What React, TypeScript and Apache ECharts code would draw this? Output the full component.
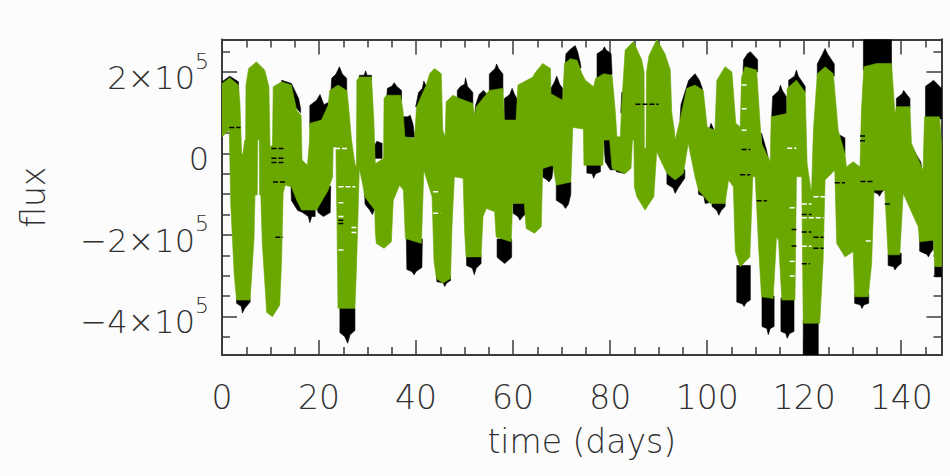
import React, { useEffect, useRef } from "react";
import * as echarts from "echarts";

// All fluxes below are in thousands; times are in days.
const FLUX_UNIT = 1000;
const T_MAX = 148.3;
const FLUX_MIN = -495000;
const FLUX_MAX = 280000;

const xMajorTicks = [0, 20, 40, 60, 80, 100, 120, 140];
const xMinorTicks = [5, 10, 15, 25, 30, 35, 45, 50, 55, 65, 70, 75, 85, 90, 95, 105, 110, 115, 125, 130, 135, 145];
const yMajorTicks = [-400000, -200000, 0, 200000];
const yMinorTicks = [-450000, -350000, -300000, -250000, -150000, -100000, -50000, 50000, 100000, 150000, 250000];
const yTickLabels: Record<string, string> = {
  "200000": "{n|2×10}{s|5}",
  "0": "{n|0}",
  "-200000": "{n|−2×10}{s|5}",
  "-400000": "{n|−4×10}{s|5}",
};

const greenUpper = [
  [0, 172], [1.6, 186], [3.4, 168], [3.7, 123], [4.05, 0], [4.25, -4], [4.7, 33], [4.87, 33], [4.94, 168], [5.5, 209], [7.1, 225], [8.8, 205], [9.67, 164], [9.9, 16], [10.4, 20], [10.56, 164], [12.3, 176], [14.3, 168], [15.4, 106], [16.3, 94], [16.5, -16], [17.6, -29], [18, 25], [18.1, 74], [20.5, 82], [21.9, 119], [22.2, 155], [23.9, 168], [25.7, 155], [26, 127], [26.7, 33], [27.4, -25], [27.7, -33], [27.8, 180], [28.3, 188], [30.8, 188], [31.3, 82], [31.6, -25], [33.3, -12], [33.4, 135], [33.9, 143], [36.8, 143], [37.3, 106], [37.7, 41], [39.7, 37], [40.1, 115], [42.1, 168], [42.8, 196], [43.8, 209], [45.2, 196], [45.5, 57], [46, 41], [46.2, 127], [47.6, 143], [49, 135], [51.7, 123], [52.1, 90], [52.4, 115], [55.1, 155], [57.9, 160], [58.2, 82], [60.6, 82], [61, 168], [64.1, 188], [64.4, 196], [66.1, 221], [67.7, 209], [67.8, 147], [70.2, 131], [70.6, 221], [71.8, 233],
  [73.2, 229], [74.2, 196], [74.9, 180], [76.6, 164], [77, 184], [78.7, 196], [80.4, 192], [81.1, 98], [81.4, 41], [82.1, 41], [82.4, 123], [83.1, 254], [84.8, 275], [86.5, 230], [87, 200], [87.05, 12], [87.4, 12], [87.5, 200], [88, 240], [89.6, 280], [91.3, 245], [92.4, 205], [92.7, 100], [93.2, 60], [93.4, 33], [94.4, 82], [95.8, 160], [97.5, 168], [99.2, 155], [100, 65], [101.6, 57], [102, 180], [103.7, 213], [105.1, 200], [105.9, 74], [106.8, 65], [107.1, 188], [107.8, 213], [110.2, 205], [110.9, 74], [111.2, 25], [113, -20], [113.2, 90], [116.4, 98], [116.5, 160], [118.4, 180], [120.2, 151], [120.6, -25], [121.5, -98], [121.9, 57], [122.7, 196], [124.3, 213], [126, 196], [127, 57], [128.4, 0], [128.7, -33], [130.1, -20], [131.5, -33], [131.8, 106], [132.3, 213], [134.9, 221], [138, 221], [138.7, 98], [139, 115], [141.8, 115], [142.1, 25], [144.5, -41], [144.8, 90], [147.9, 90], [148.3, 25],
];

const greenLower = [
  [0, 41], [1.5, 57], [1.8, -123], [2.5, -294], [3, -360], [5.8, -360], [6.1, -303], [6.6, -209], [6.8, -102], [7.27, -102], [7.34, 33], [7.68, 33], [7.75, -102], [8, -102], [8.3, -221], [9, -349], [9.2, -390], [10.4, -401], [11.9, -372], [12.3, -254], [12.6, -98], [13, -78], [14.3, -82], [15.4, -115], [16.4, -139], [19.5, -139], [21.9, -90], [22.2, -78], [22.8, -57], [22.9, 16], [23.5, 16], [23.55, -57], [23.7, -164], [23.9, -380], [27.4, -380], [27.7, -286], [28.1, -123], [28.3, -37], [29.1, -82], [29.4, -106], [31.5, -139], [31.6, -192], [31.8, -221], [33.4, -233], [34.9, -217], [35.3, -115], [36.6, -78], [37.4, -90], [37.8, -209], [41.1, -221], [41.6, -41], [43.3, -106], [43.7, -266], [44.2, -307], [45.5, -319], [47.1, -307], [47.4, -180], [47.9, -57], [49.7, -61], [50, -188], [50.3, -254], [53.4, -254], [53.8, -155], [54.5, -135], [56.2, -143], [56.5, -205], [59.6, -217], [59.9, -123], [62.3, -123], [62.7, -184], [64.4, -196], [65.8, -180], [66.1, -37], [68.2, -29], [68.9, -78], [71.9, -70], [72.3, 64],
  [74.5, 60], [74.6, -29], [78.5, -29], [78.7, 33], [79.9, 33], [80.4, -37], [83.1, -49], [84.3, -37], [84.6, 33], [84.9, 33], [85, -82], [85.5, -106], [87.2, -139], [89, -106], [89.6, 4], [91.7, -49], [93.4, -65], [95.1, -49], [96.1, 25], [97.5, -57], [98.2, -90], [100.6, -123], [103.7, -123], [104.4, -65], [105.4, -82], [105.8, -241], [106.8, -278], [108.8, -254], [109.4, -57], [109.9, -57], [110.6, -229], [111.2, -352], [113.6, -356], [114.3, -205], [114.7, -213], [115.4, -360], [118.1, -360], [118.4, -57], [119.5, -57], [119.8, -417], [123.2, -417], [123.9, -262], [124.3, -65], [126.3, -41], [126.7, -221], [128.4, -254], [130.1, -241], [130.4, -352], [133.2, -352], [133.9, -270], [134.4, -90], [136.6, -90], [137.3, -249], [139.7, -249], [140.4, -98], [143.5, -180], [143.8, -217], [146.6, -213], [146.9, -278], [148.3, -278],
];

// Black series where it shows past the green one: its peaks and troughs.
const blackPeaks = [
  [[0, 140], [0, 176], [1.6, 190], [3.4, 176], [3.4, 140]],
  [[12.3, 150], [12.3, 180], [14.3, 172], [15.8, 135], [16.2, 110], [16.2, 100], [14, 130]],
  [[18.1, 65], [18.1, 118], [19.5, 131], [20.2, 145], [21, 120], [21.9, 125], [22, 80]],
  [[22.4, 140], [22.6, 185], [23.5, 195], [24.2, 213], [24.8, 195], [25.7, 185], [25.7, 140]],
  [[28.3, 180], [28.3, 192], [29.3, 192], [29.6, 203], [29.9, 192], [30.8, 192], [30.8, 180]],
  [[31.5, -12], [31.5, 20], [31.9, 30], [33, 25], [33, -12]],
  [[33.9, 130], [34.1, 160], [35, 165], [35.5, 174], [36, 165], [37, 155], [37, 130]],
  [[37.3, 40], [37.3, 90], [38.3, 90], [38.8, 94], [39.4, 70], [39.7, 40]],
  [[39.9, 115], [40.1, 125], [40.5, 150], [41.3, 160], [41.6, 178], [42.1, 165], [42.1, 120]],
  [[48.5, 120], [48.5, 155], [49.2, 165], [50, 170], [50.2, 186], [50.6, 165], [51.7, 150], [51.7, 120]],
  [[52.1, 90], [52.3, 120], [53, 145], [53.9, 155], [54.3, 150], [55, 140], [55, 110]],
  [[55.1, 150], [55.1, 195], [56.3, 209], [56.6, 220], [57, 209], [57.9, 195], [57.9, 150]],
  [[58.2, 80], [58.2, 135], [59.3, 145], [59.8, 160], [60.3, 145], [60.8, 135], [60.8, 80]],
  [[67.8, 130], [67.8, 160], [68.5, 175], [69, 190], [69.6, 170], [70.2, 160], [70.2, 130]],
  [[70.7, 210], [70.9, 245], [71.8, 256], [72.8, 265], [73.3, 250], [73.8, 225], [74, 210]],
  [[77.3, 170], [77.3, 245], [78.5, 254], [78.8, 262], [79.2, 254], [80.2, 245], [80.4, 195]],
  [[82.2, 100], [82.4, 150], [83, 150], [83, 100]],
  [[94.4, 82], [94.6, 120], [95.8, 165], [96.2, 180], [97.5, 196], [98.4, 180], [99, 160], [99, 130]],
  [[100.3, 20], [100.3, 55], [100.8, 74], [101.5, 55], [101.5, 20]],
  [[107.4, 200], [107.5, 230], [108.3, 245], [108.9, 250], [109.3, 245], [110.4, 230], [110.4, 200]],
  [[111.2, 50], [112.2, 10], [112.8, -25], [111.5, -30]],
  [[113.3, 90], [113.5, 140], [114.8, 155], [115.1, 168], [115.5, 155], [116.3, 140], [116.4, 90]],
  [[116.8, 150], [116.8, 180], [118, 190], [118.4, 205], [118.8, 190], [120.2, 165], [120.2, 150]],
  [[122.7, 190], [122.7, 220], [123.8, 245], [124.3, 258], [124.8, 245], [126.2, 220], [126.2, 190]],
  [[124.6, 33], [125.8, 25], [126, -33], [125.3, -30], [124.6, -5]],
  [[127.4, 45], [128.4, 38], [128.4, 0], [127.4, 0]],
  [[132.2, 205], [132.2, 280], [138, 280], [138, 205]],
  [[139, 110], [139, 135], [140.2, 147], [140.5, 155], [141, 147], [141.8, 135], [141.8, 110]],
  [[142.1, 20], [143.2, -5], [144, -20], [144.2, -33], [143.3, -38], [142.3, -30]],
  [[145, 85], [145, 165], [146.3, 176], [146.6, 180], [147, 176], [148.3, 160], [148.3, 85]],
];

const blackTroughs = [
  [[3, -355], [3, -368], [4, -376], [4.2, -392], [4.7, -380], [5.8, -365], [5.8, -355]],
  [[14.2, -70], [14.3, -115], [15.6, -140], [16.7, -145], [16.7, -125], [15.6, -85]],
  [[16.5, -135], [16.6, -145], [17.8, -155], [18.1, -170], [18.5, -155], [19.2, -155], [19.2, -135]],
  [[19.5, -130], [19.8, -145], [20.9, -155], [22.3, -145], [22.4, -80], [21.5, -82], [20.5, -85]],
  [[24.3, -380], [24.3, -440], [25.3, -450], [25.9, -466], [26.4, -445], [27.4, -435], [27.4, -380]],
  [[29.4, -100], [29.5, -125], [30.5, -140], [31, -150], [31.5, -135], [31.5, -115], [30.5, -125]],
  [[38, -210], [38.1, -285], [39.1, -290], [39.6, -298], [40, -290], [41.2, -280], [41.3, -210]],
  [[44.2, -300], [44.3, -315], [45.6, -318], [45.9, -327], [46.3, -318], [47.1, -312], [47.1, -300]],
  [[50.4, -250], [50.4, -275], [51.6, -282], [52, -298], [52.4, -282], [53.4, -270], [53.4, -250]],
  [[56.7, -210], [56.7, -255], [58, -268], [58.3, -270], [59.7, -255], [59.7, -210]],
  [[60, -120], [60, -147], [61, -155], [61.4, -164], [62, -155], [62.7, -147], [62.7, -120]],
  [[66.1, -30], [66.1, -58], [67, -65], [67.4, -70], [68, -60], [68.3, -30]],
  [[68.9, -75], [68.9, -115], [70.2, -125], [70.8, -135], [71.4, -125], [71.9, -100], [71.9, -70]],
  [[75.2, -25], [75.2, -48], [76.3, -50], [76.6, -61], [77, -50], [78, -45], [78, -25]],
  [[78.7, 33], [80, 33], [80.7, -20], [81.3, -45], [83, -49], [83, -40], [80, -40], [79, -20]],
  [[91.7, -40], [91.7, -75], [93, -85], [93.4, -98], [94, -85], [95.4, -60], [95.4, -40]],
  [[98.2, -85], [98.2, -100], [99.3, -105], [99.6, -123], [100.6, -120], [100.6, -85]],
  [[101, -120], [101, -130], [102, -140], [102.4, -152], [102.9, -140], [103.7, -130], [103.7, -120]],
  [[106.1, -275], [106.1, -365], [107.3, -370], [107.6, -376], [108.1, -366], [108.9, -360], [108.9, -275]],
  [[111.3, -350], [111.3, -425], [112.3, -430], [112.6, -445], [113, -430], [113.8, -425], [113.8, -350]],
  [[115.2, -355], [115.2, -437], [116.2, -442], [116.5, -454], [117, -442], [117.9, -437], [117.9, -355]],
  [[119.8, -410], [119.8, -495], [122.9, -495], [122.9, -410]],
  [[130.4, -345], [130.4, -368], [131.6, -372], [131.9, -381], [132.3, -372], [133.3, -368], [133.3, -345]],
  [[134.4, -28], [134.4, -95], [135.3, -100], [135.5, -105], [136, -95], [136.4, -90], [136.4, -28]],
  [[137.3, -245], [137.3, -275], [138.4, -278], [138.7, -286], [139.2, -278], [140, -270], [140, -245]],
  [[143.8, -200], [143.8, -240], [145.3, -248], [145.6, -254], [146, -245], [146.6, -235], [146.6, -200]],
  [[146.9, -275], [146.9, -303], [148.3, -303], [148.3, -275]],
];

// Short level runs in the sampled flux: [from, to, flux].
const blackDashes = [
  [1.5, 3.8, 64], [10.2, 13, 12], [10.2, 13, -12], [10.2, 13, -22], [10.5, 13, -70], [11, 12.6, -206], [24, 25, -164], [24, 25, -172],
  [85.2, 90, 121], [107.1, 108.9, 10], [106.8, 108.9, -52], [110.2, 112.3, -116], [119.5, 121.5, -150], [117.4, 118.4, -187], [119.5, 121.5, -193], [121.9, 124, -206], [117.4, 118.4, -227], [121.9, 124, -233], [119.5, 121.2, -271], [126.3, 128.4, -72], [131.6, 134.2, -69], [136.6, 137.7, -124], [131.5, 132.8, 43], [131.5, 132.8, 31],
];
const whiteDashes = [
  [23.3, 26, 12], [24, 27.5, -82], [24, 25, -121], [24, 25.1, -155], [24, 25.1, -237], [26.7, 27.7, -182], [26.7, 27.7, -194], [43.5, 44.8, -94], [43.5, 45, -147],
  [107.1, 108.2, 168], [107.1, 108.2, 110], [107.1, 108.2, 57], [116.5, 118.4, 13], [117, 118.4, -133], [119.5, 121.5, -124], [121.9, 124.3, -106], [119.5, 124, -158], [119.5, 121.5, -228], [117, 118.4, -265], [117, 118.4, -301], [132.7, 134, -215],
];

const palette = { green: "#6aa800", black: "#000000", axis: "#3c3c3c", text: "#303030", paper: "#fcfcfc" };
const textFont = "DejaVu Sans";
const textWeight = 200;

type Pt = number[];
const greenOutline: Pt[] = [...greenUpper, ...[...greenLower].reverse()];

function polygonSeries(name: string, polys: Pt[][], fill: string, z: number) {
  return {
    type: "custom",
    name,
    z,
    clip: true,
    silent: true,
    data: polys.map((_, i) => [i]),
    renderItem: (params: any, api: any) => ({
      type: "polygon",
      shape: { points: polys[params.dataIndex].map(([t, v]) => api.coord([t, v * FLUX_UNIT])) },
      style: { fill, stroke: fill, lineWidth: 0.6 },
    }),
  };
}

function dashSeries(name: string, dashes: number[][], color: string, z: number) {
  return {
    type: "custom",
    name,
    z,
    clip: true,
    silent: true,
    data: dashes.map((_, i) => [i]),
    renderItem: (params: any, api: any) => {
      const [a, b, v] = dashes[params.dataIndex];
      const p0 = api.coord([a, v * FLUX_UNIT]);
      const p1 = api.coord([b, v * FLUX_UNIT]);
      return {
        type: "line",
        shape: { x1: p0[0], y1: p0[1], x2: p1[0], y2: p1[1] },
        style: { stroke: color, lineWidth: 1.5, lineDash: [5, 2] },
      };
    },
  };
}

function xAxisDef(position: string, ticks: number[], len: number, labelled: boolean, extra: any = {}) {
  return {
    type: "value",
    position,
    min: 0,
    max: T_MAX,
    splitLine: { show: false },
    axisLine: { show: labelled || position === "top", onZero: false, lineStyle: { color: palette.axis, width: 2 } },
    axisTick: { show: true, inside: true, length: len, customValues: ticks, lineStyle: { color: palette.axis, width: 1.5 } },
    axisLabel: labelled
      ? { show: true, customValues: ticks, color: palette.text, fontFamily: textFont, fontWeight: textWeight, fontSize: 33, margin: 26, showMinLabel: true, showMaxLabel: true }
      : { show: false },
    ...extra,
  };
}

function yAxisDef(position: string, ticks: number[], len: number, labelled: boolean, extra: any = {}) {
  return {
    type: "value",
    position,
    min: FLUX_MIN,
    max: FLUX_MAX,
    splitLine: { show: false },
    axisLine: { show: labelled || position === "right", onZero: false, lineStyle: { color: palette.axis, width: 2 } },
    axisTick: { show: true, inside: true, length: len, customValues: ticks, lineStyle: { color: palette.axis, width: 1.5 } },
    axisLabel: labelled
      ? {
          show: true,
          customValues: ticks,
          margin: 13,
          color: palette.text,
          formatter: (v: number) => yTickLabels[String(v)] ?? String(v),
          rich: {
            n: { fontFamily: textFont, fontWeight: textWeight, fontSize: 32, color: palette.text, lineHeight: 44, verticalAlign: "bottom" },
            s: { fontFamily: textFont, fontWeight: textWeight, fontSize: 22, color: palette.text, lineHeight: 44, verticalAlign: "top" },
          },
        }
      : { show: false },
    ...extra,
  };
}

export default function App() {
  const ref = useRef<HTMLDivElement>(null);
  useEffect(() => {
    document.body.style.margin = "0";
    document.body.style.background = "#ffffff";
    const chart = echarts.init(ref.current!, undefined, { renderer: "svg" });
    chart.setOption({
      animation: false,
      backgroundColor: palette.paper,
      grid: { left: 222, right: 8.5, top: 39.5, bottom: 121, containLabel: false, outerBoundsMode: "none" },
      xAxis: [
        xAxisDef("bottom", xMajorTicks, 15, true, {
          name: "time (days)",
          nameLocation: "middle",
          nameGap: 70,
          nameTextStyle: { color: palette.text, fontFamily: textFont, fontWeight: textWeight, fontSize: 33 },
        }),
        xAxisDef("bottom", xMinorTicks, 8, false),
        xAxisDef("top", xMajorTicks, 15, false),
        xAxisDef("top", xMinorTicks, 8, false),
      ],
      yAxis: [
        yAxisDef("left", yMajorTicks, 15, true, {
          name: "flux",
          nameLocation: "middle",
          nameRotate: 90,
          nameGap: 172,
          nameTextStyle: { color: palette.text, fontFamily: textFont, fontWeight: textWeight, fontSize: 33 },
        }),
        yAxisDef("left", yMinorTicks, 8, false),
        yAxisDef("right", yMajorTicks, 15, false),
        yAxisDef("right", yMinorTicks, 8, false),
      ],
      series: [
        polygonSeries("black caps", [...blackPeaks, ...blackTroughs], palette.black, 2),
        polygonSeries("green band", [greenOutline], palette.green, 3),
        dashSeries("black dashes", blackDashes, palette.black, 4),
        dashSeries("white dashes", whiteDashes, "#ffffff", 5),
      ],
    });
    return () => chart.dispose();
  }, []);
  return <div ref={ref} style={{ width: 950, height: 476 }} />;
}
